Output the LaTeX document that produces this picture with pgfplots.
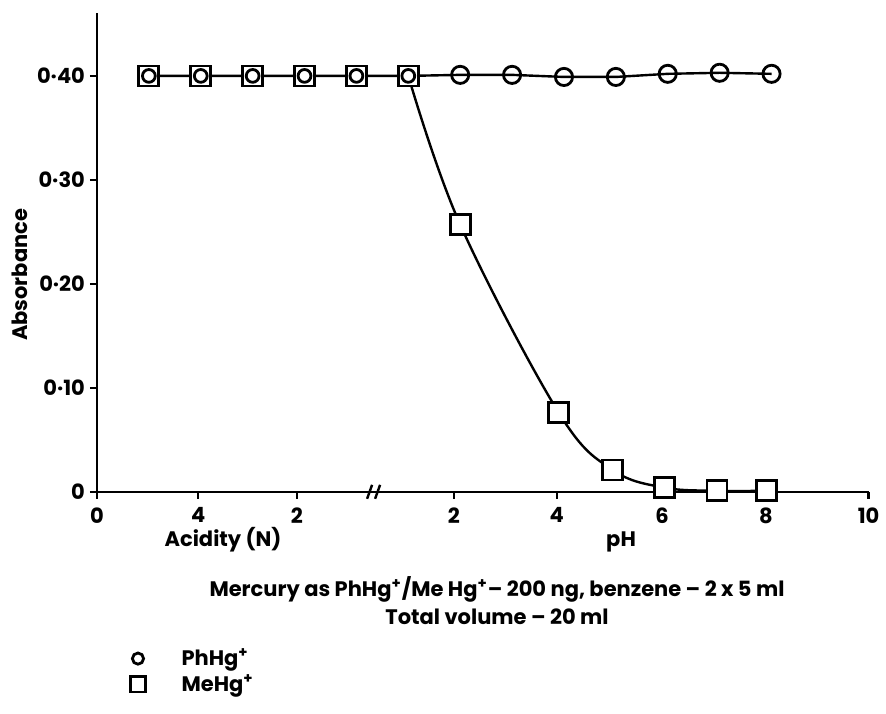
\documentclass[border=0pt]{standalone}
\usepackage{pgfplots}
\pgfplotsset{compat=1.18}
\usepackage{fontspec}
\setmainfont{Poppins}

\begin{document}
\begin{tikzpicture}
\begin{axis}[
    x=25.95pt, y=520pt,
    xmin=0, xmax=14.87,
    ymin=0, ymax=0.4606,
    axis lines=left,
    axis line style={-, line width=1.2pt},
    tick style={line width=1.2pt, black},
    major tick length=3.5pt,
    tick align=outside,
    clip=false,
    font=\fontsize{10.5}{12}\selectfont\bfseries,
    xtick={0,1.95,3.85,6.88,8.86,10.89,12.89,14.87},
    xticklabels={0,4,2,2,4,6,8,10},
    ytick={0,0.1,0.2,0.3,0.4},
    yticklabels={0,0·10,0·20,0·30,0·40},
    xticklabel style={yshift=-1pt},
    yticklabel style={xshift=1pt},
    legend style={draw=none, fill=none, at={(axis description cs:0.035,-0.31)},
        anchor=north west, row sep=-1pt,
        /tikz/column 1/.style={column sep=16pt},
        font=\fontsize{10.5}{12}\selectfont\bfseries},
    legend cell align=left,
]
% PhHg+ (circles)
\addplot[line width=1.2pt, black, mark=o, mark size=4.3pt,
    mark options={line width=1.4pt}, forget plot]
coordinates {
    (1,0.400)(2,0.400)(3,0.400)(4,0.400)(5,0.400)(6,0.400)(7,0.401)
    (8,0.401)(9,0.399)(10,0.399)(11,0.402)(12,0.403)(13,0.402)
};
% MeHg+ (squares): flat part, then the fitted curve
\addplot[line width=1.2pt, black, forget plot]
coordinates {(1,0.400)(2,0.400)(3,0.400)(4,0.400)(5,0.400)(6,0.400)};
\addplot[line width=1.2pt, black, smooth, tension=0.6, forget plot]
coordinates {
    (6,0.400)(7.0,0.257)(8.9,0.076)(9.94,0.021)(10.94,0.004)(11.95,0.001)(12.9,0.001)
};
\addplot[only marks, black, mark=square*, mark size=5pt,
    mark options={fill=white, line width=1.4pt}, forget plot]
coordinates {
    (1,0.400)(2,0.400)(3,0.400)(4,0.400)(5,0.400)(6,0.400)
    (7.0,0.257)(8.9,0.076)(9.94,0.021)(10.94,0.004)(11.95,0.001)(12.9,0.001)
};
\addplot[only marks, black, mark=o, mark size=3.2pt,
    mark options={line width=1.4pt}, forget plot]
coordinates {
    (1,0.400)(2,0.400)(3,0.400)(4,0.400)(5,0.400)(6,0.400)
};

\addlegendimage{only marks, black, mark=o, mark size=2.8pt, mark options={line width=1.4pt}}
\addlegendentry{PhHg\textsuperscript{+}}
\addlegendimage{only marks, black, mark=square, mark size=3.8pt, mark options={line width=1.4pt}}
\addlegendentry{MeHg\textsuperscript{+}}

% axis break
\draw[line width=1.2pt] ([xshift=-4pt,yshift=-3.5pt]axis cs:5.36,0) -- ++(2.5pt,7pt);
\draw[line width=1.2pt] ([xshift=0pt,yshift=-3.5pt]axis cs:5.36,0) -- ++(2.5pt,7pt);

\node[rotate=90] at (axis cs:-1.48,0.2087) {Absorbance};
\node at (axis cs:2.43,-0.046) {Acidity (N)};
\node at (axis cs:10.10,-0.048) {pH};
\node at (axis cs:7.71,-0.094) {Mercury as PhHg\textsuperscript{+}/Me Hg\textsuperscript{+}– 200 ng, benzene – 2 x 5 ml};
\node at (axis cs:7.71,-0.120) {Total volume – 20 ml};

\path (axis cs:-1.869,-0.2135) rectangle (axis cs:15.2,0.473);
\end{axis}
\end{tikzpicture}
\end{document}
